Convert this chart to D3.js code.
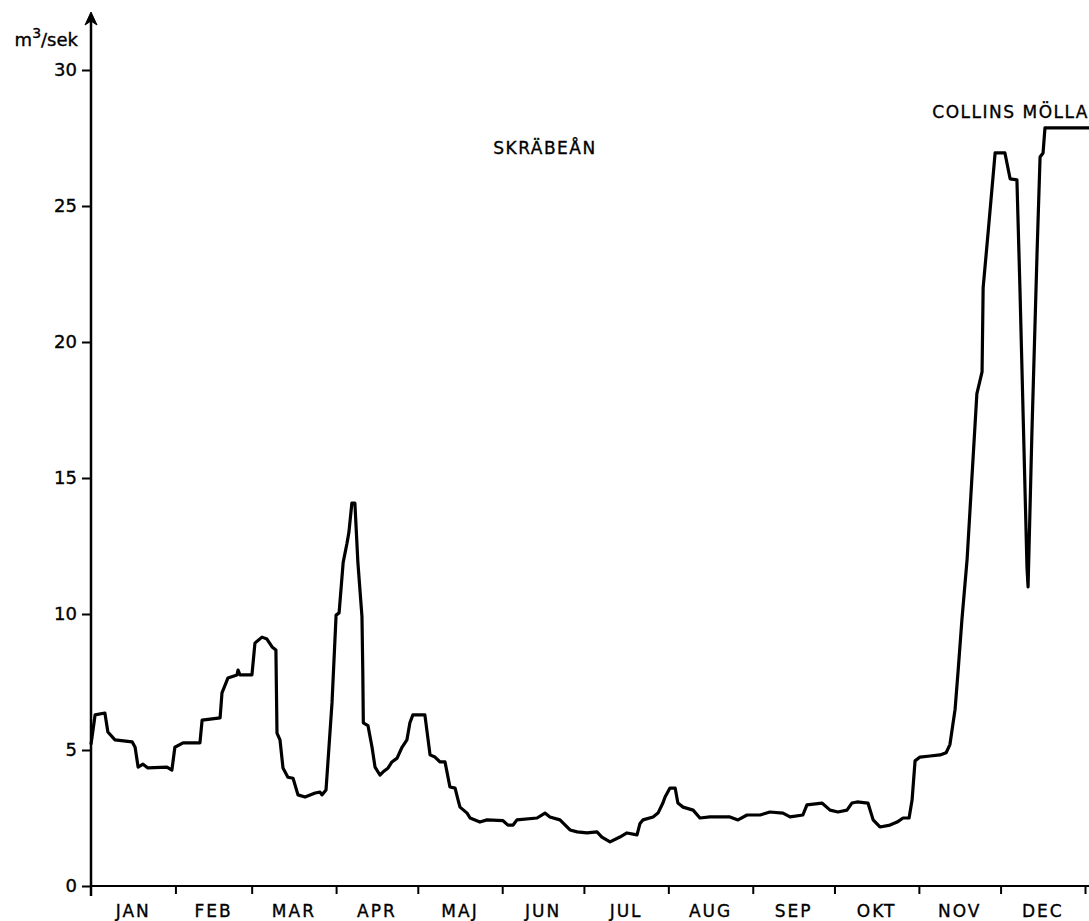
<!DOCTYPE html>
<html>
<head>
<meta charset="utf-8">
<script src="https://cdn.jsdelivr.net/npm/d3@7"></script>
<style>
  body { margin: 0; background: #fff; }
  text { font-family: "DejaVu Sans", sans-serif; fill: #000; stroke: #000; stroke-width: 0.35px; }
</style>
</head>
<body>
<div id="chart"></div>
<script>
// month names and lengths (days)
const months = ['JAN', 'FEB', 'MAR', 'APR', 'MAJ', 'JUN', 'JUL', 'AUG', 'SEP', 'OKT', 'NOV', 'DEC'];
const monthDays = [31, 28, 31, 30, 31, 30, 31, 31, 30, 31, 30, 31];
const yTicks = [0, 5, 10, 15, 20, 25, 30];

// day of year (0 = 1 jan) and flow m3/sek
const days = [0, 1.5, 5.1, 6.2, 8.8, 15.1, 16.2, 17.3, 19.1, 20.9, 27.9, 29.7, 30.8, 33.8, 40.0,
  40.8, 47.4, 48.1, 50.3, 53.6, 54.0, 54.7, 59.1, 60.2, 62.8, 64.6, 66.5, 67.9, 68.3, 69.4,
  70.5, 72.3, 74.2, 76.0, 78.6, 82.3, 84.1, 84.8, 86.3, 88.5, 90.0, 91.1, 92.6, 94.0, 94.7,
  95.8, 96.9, 98.0, 99.5, 99.8, 100.0, 101.7, 103.2, 104.3, 106.1, 107.2, 109.1, 110.5, 112.4,
  114.2, 116.0, 117.1, 118.2, 122.6, 124.5, 126.3, 128.2, 130.0, 131.8, 133.7, 134.8, 135.5,
  138.1, 139.2, 142.8, 145.4, 151.3, 153.1, 155.0, 156.4, 163.8, 166.7, 168.5, 172.2, 175.9,
  178.5, 182.1, 185.8, 187.6, 190.6, 194.2, 196.8, 200.5, 201.6, 202.7, 206.4, 208.2, 210.0,
  210.8, 212.6, 214.5, 215.5, 217.4, 221.1, 223.6, 227.3, 234.6, 237.6, 240.9, 245.7, 249.3,
  254.1, 256.7, 261.4, 262.9, 268.4, 271.4, 274.3, 277.6, 279.4, 281.3, 285.3, 287.2, 289.7,
  293.4, 296.0, 298.2, 300.4, 301.5, 302.6, 304.4, 308.1, 311.8, 314.0, 315.4, 317.3, 318.4,
  319.8, 321.7, 325.3, 327.2, 327.6, 329.4, 332.0, 335.6, 337.5, 340.0, 341.1, 343.7, 344.1,
  345.5, 347.4, 348.5, 349.6, 350.3, 366.5];
const flow = [5.2, 6.29, 6.36, 5.66, 5.37, 5.3, 5.1, 4.37, 4.48, 4.34, 4.37, 4.26, 5.1, 5.26, 5.26,
  6.1, 6.18, 7.1, 7.65, 7.76, 7.94, 7.76, 7.76, 8.93, 9.15, 9.08, 8.79, 8.68, 5.62, 5.37,
  4.34, 4.0, 3.96, 3.35, 3.27, 3.42, 3.45, 3.35, 3.53, 6.73, 9.96, 10.04, 11.9, 12.6, 13.0,
  14.08, 14.08, 11.9, 9.9, 7.9, 6.0, 5.9, 5.1, 4.37, 4.08, 4.19, 4.34, 4.56, 4.7,
  5.1, 5.37, 6.0, 6.29, 6.29, 4.82, 4.74, 4.56, 4.56, 3.64, 3.6, 3.16, 2.9,
  2.68, 2.5, 2.35, 2.43, 2.4, 2.24, 2.24, 2.43, 2.5, 2.68, 2.54, 2.43, 2.06,
  1.99, 1.95, 1.99, 1.8, 1.62, 1.8, 1.95, 1.88, 2.3, 2.43, 2.54, 2.68, 3.05,
  3.27, 3.6, 3.6, 3.05, 2.9, 2.79, 2.5, 2.54, 2.54, 2.43, 2.61, 2.61, 2.72,
  2.68, 2.54, 2.61, 2.98, 3.05, 2.79, 2.72, 2.79, 3.05, 3.09, 3.05, 2.43, 2.17,
  2.24, 2.35, 2.5, 2.5, 3.16, 4.6, 4.74, 4.78, 4.82, 4.9, 5.2, 6.5, 7.9,
  9.78, 12.0, 18.1, 18.9, 22.0, 24.0, 26.95, 26.95, 26.0, 25.96, 22.0, 11.7, 11.0,
  16.65, 23.3, 26.8, 26.95, 27.87, 27.87];

const W = 1089, H = 921;

const svg = d3.select('#chart').append('svg')
  .attr('width', W)
  .attr('height', H);

const x = d3.scaleLinear().domain([0, 365]).range([91, 1085]);
const y = d3.scaleLinear().domain([0, 30]).range([886, 70]);

// month boundaries
const monthEnds = d3.cumsum(monthDays);
const monthStarts = monthEnds.map((e, i) => e - monthDays[i]);

// x axis with month ticks
const xAxis = d3.axisBottom(x)
  .tickValues(Array.from(monthEnds))
  .tickSize(8)
  .tickFormat('');
const gx = svg.append('g')
  .attr('transform', 'translate(0,' + y(0) + ')')
  .call(xAxis);
gx.select('.domain').remove();
gx.selectAll('.tick line').attr('stroke', '#000').attr('stroke-width', 2);
gx.append('line')
  .attr('x1', x(0)).attr('x2', W)
  .attr('stroke', '#000').attr('stroke-width', 2);

svg.append('g').selectAll('text')
  .data(months)
  .enter()
  .append('text')
  .attr('x', (d, i) => x(monthStarts[i] + monthDays[i] / 2))
  .attr('y', 917)
  .attr('text-anchor', 'middle')
  .attr('font-size', 17)
  .attr('letter-spacing', 2)
  .text(d => d);

// y axis
const yAxis = d3.axisLeft(y)
  .tickValues(yTicks)
  .tickSize(9)
  .tickPadding(5);
const gy = svg.append('g')
  .attr('transform', 'translate(' + x(0) + ',0)')
  .call(yAxis);
gy.select('.domain').remove();
gy.selectAll('.tick line').attr('stroke', '#000').attr('stroke-width', 2);
gy.selectAll('.tick text')
  .attr('font-size', 18)
  .attr('font-family', '"DejaVu Sans", sans-serif')
  .attr('fill', '#000');

gy.append('line')
  .attr('y1', 896).attr('y2', 20)
  .attr('stroke', '#000').attr('stroke-width', 2.5);
gy.append('path')
  .attr('d', 'M0,12 L-6,25 L0,21 L6,25 Z')
  .attr('fill', '#000')
  .attr('stroke', '#000')
  .attr('stroke-width', 1);

// unit label
const unit = svg.append('text')
  .attr('x', 78)
  .attr('y', 46)
  .attr('text-anchor', 'end')
  .attr('font-size', 18);
unit.append('tspan').text('m');
unit.append('tspan').attr('dy', -8).attr('font-size', 14).text('3');
unit.append('tspan').attr('dy', 8).text('/sek');

// station labels
svg.append('text')
  .attr('x', 545).attr('y', 154)
  .attr('text-anchor', 'middle')
  .attr('font-size', 17)
  .attr('letter-spacing', 1.5)
  .text('SKRÄBEÅN');
svg.append('text')
  .attr('x', 1089).attr('y', 118)
  .attr('text-anchor', 'end')
  .attr('font-size', 17)
  .attr('letter-spacing', 1.5)
  .text('COLLINS MÖLLA');

// flow line
const line = d3.line()
  .x((d, i) => x(days[i]))
  .y(d => y(d));

svg.append('path')
  .datum(flow)
  .attr('d', line)
  .attr('fill', 'none')
  .attr('stroke', '#000')
  .attr('stroke-width', 3.2)
  .attr('stroke-linejoin', 'round');
</script>
</body>
</html>
